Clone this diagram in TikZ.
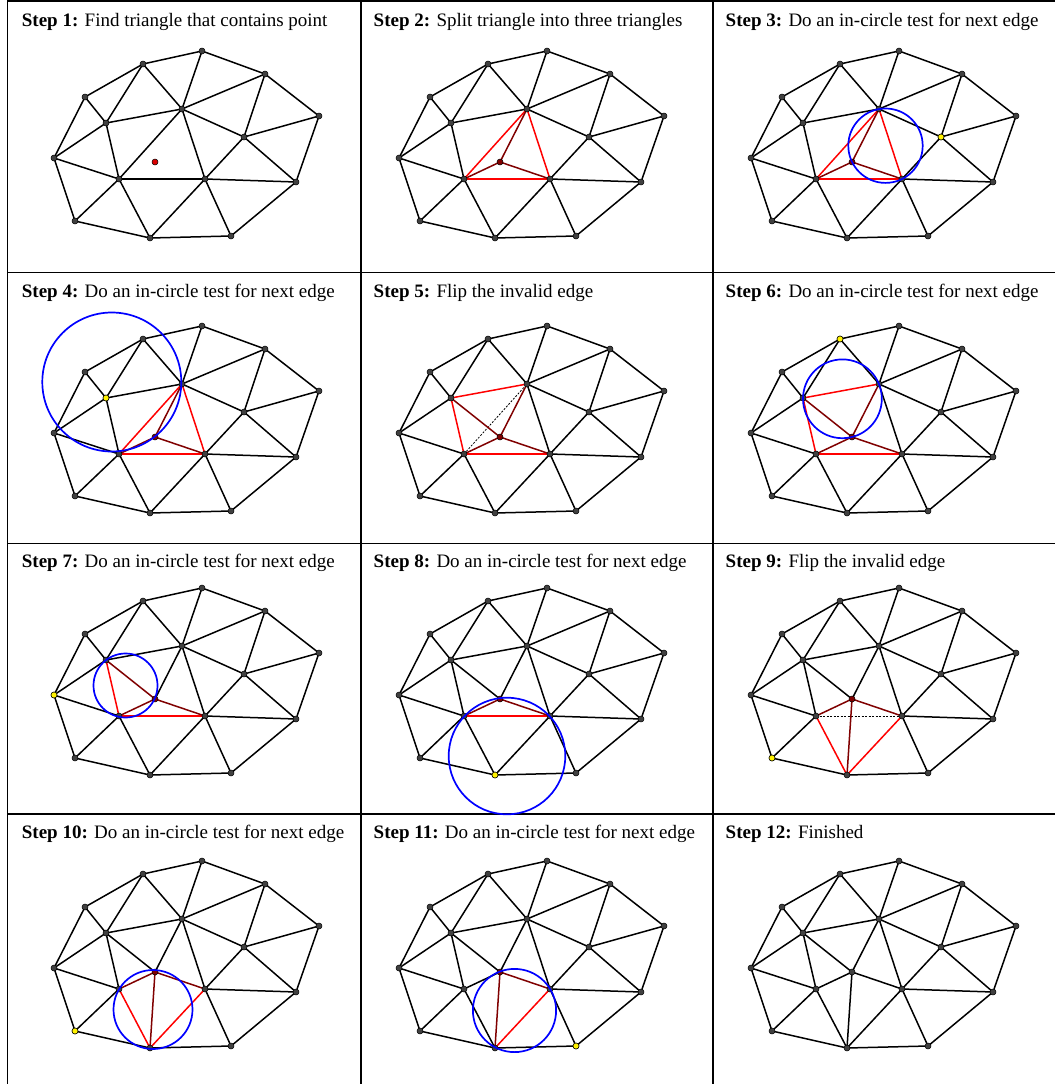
\documentclass[tikz,border=0pt]{standalone}
\usepackage{fontspec}
\setmainfont{Liberation Serif}
\definecolor{dred}{HTML}{800000}
\definecolor{vgray}{HTML}{404040}
\tikzset{
 edge/.style={line width=1.5pt, black, line cap=round},
 redge/.style={line width=1.5pt, red, line cap=round},
 dedge/.style={line width=1.5pt, dred, line cap=round},
 flipd/.style={line width=0.8pt, black, dash pattern=on 2pt off 1.5pt},
 vtx/.style={circle, draw=black, line width=0.5pt, fill=vgray, inner sep=0pt, minimum size=6pt},
 ccirc/.style={draw=blue, line width=1.7pt},
 gridline/.style={line width=1.8pt, black},
 title/.style={anchor=base west, inner sep=0pt, font=\fontsize{19}{22}\selectfont},
}
\newcommand\placepts[3]{%
 \begin{scope}[shift={(#2,#3)}]
 \coordinate (#1A) at (202,51);
 \coordinate (#1B) at (143,64);
 \coordinate (#1C) at (265,74);
 \coordinate (#1D) at (85,97);
 \coordinate (#1E) at (182,109);
 \coordinate (#1F) at (319,116);
 \coordinate (#1G) at (106,123);
 \coordinate (#1H) at (244,137);
 \coordinate (#1I) at (54,158);
 \coordinate (#1P) at (155,162);
 \coordinate (#1J) at (119,179);
 \coordinate (#1K) at (205,179);
 \coordinate (#1L) at (296,182);
 \coordinate (#1M) at (75,221);
 \coordinate (#1N) at (150,238);
 \coordinate (#1O) at (231,236);
 \end{scope}}
\newcommand\fixededges[1]{\foreach \u/\v in {I/D,D/B,B/A,A/C,C/F,F/L,L/O,O/N,N/M,M/I,D/G,B/G,B/E,A/E,C/E,C/H,F/H,E/H,H/K,H/L,I/G,I/J,K/L,J/M,K/O} \draw[edge] (#1\u) -- (#1\v);}
\newcommand\meshedges[3]{\foreach \u/\v in {#3} \draw[#2] (#1\u) -- (#1\v);}
\newcommand\meshdots[2]{\foreach \v in {A,B,C,D,E,F,G,H,I,J,K,L,M,N,O} \node[vtx] (dot#1\v) at (#1\v) {};
 \node[vtx, fill=#2] (dot#1P) at (#1P) {};}
\newcommand\incircle[5]{\begin{scope}[shift={(#1,#2)}]\draw[ccirc] (#3,#4) circle[radius=#5];\end{scope}}
\begin{document}
\begin{tikzpicture}[x=1pt,y=-1pt]
\useasboundingbox (0,0) rectangle (1055,1084);
\fill[white] (0,0) rectangle (1055,1084);
% grid
\draw[gridline] (7.5,0) -- (7.5,1084);
\draw[gridline] (361,0) -- (361,1084);
\draw[gridline] (713,0) -- (713,1084);
\draw[gridline] (7.5,1.2) -- (1055,1.2);
\draw[gridline] (7.5,272.5) -- (1055,272.5);
\draw[gridline] (7.5,543.5) -- (1055,543.5);
\draw[gridline] (7.5,814.3) -- (1055,814.3);
% titles
\node[title] (t1) at (21.7,26.7) {\textbf{Step 1:} Find triangle that contains point};
\node[title] (t2) at (373.5,26.7) {\textbf{Step 2:} Split triangle into three triangles};
\node[title] (t3) at (725.5,26.7) {\textbf{Step 3:} Do an in-circle test for next edge};
\node[title] (t4) at (21.7,297) {\textbf{Step 4:} Do an in-circle test for next edge};
\node[title] (t5) at (373.5,297) {\textbf{Step 5:} Flip the invalid edge};
\node[title] (t6) at (725.5,297) {\textbf{Step 6:} Do an in-circle test for next edge};
\node[title] (t7) at (21.7,567.5) {\textbf{Step 7:} Do an in-circle test for next edge};
\node[title] (t8) at (373.5,567.5) {\textbf{Step 8:} Do an in-circle test for next edge};
\node[title] (t9) at (725.5,567.5) {\textbf{Step 9:} Flip the invalid edge};
\node[title] (t10) at (21.7,838.5) {\textbf{Step 10:} Do an in-circle test for next edge};
\node[title] (t11) at (373.5,838.5) {\textbf{Step 11:} Do an in-circle test for next edge};
\node[title] (t12) at (725.5,838.5) {\textbf{Step 12:} Finished};
% Step 1
\placepts{s1-}{0}{0}
\fixededges{s1-}
\meshedges{s1-}{edge}{E/G,E/J,E/K,G/J,J/K,J/N,K/N}
\meshdots{s1-}{red!85!black}
% Step 2
\placepts{s2-}{345}{0}
\fixededges{s2-}
\meshedges{s2-}{edge}{E/G,G/J,J/N,K/N}
\meshedges{s2-}{redge}{J/E,E/K,J/K}
\meshedges{s2-}{dedge}{P/J,P/E,P/K}
\meshdots{s2-}{dred}
% Step 3
\placepts{s3-}{697}{0}
\fixededges{s3-}
\meshedges{s3-}{edge}{E/G,G/J,J/N,K/N}
\meshedges{s3-}{redge}{J/E,E/K,J/K}
\meshedges{s3-}{dedge}{P/J,P/E,P/K}
\meshdots{s3-}{dred}
\node[vtx, fill=yellow] (y3) at (s3-H) {};
\incircle{697}{0}{188.5}{145.7}{37.2}
% Step 4
\placepts{s4-}{0}{275}
\fixededges{s4-}
\meshedges{s4-}{edge}{E/G,G/J,J/N,K/N}
\meshedges{s4-}{redge}{J/E,E/K,J/K}
\meshedges{s4-}{dedge}{P/J,P/E,P/K}
\meshdots{s4-}{dred}
\node[vtx, fill=yellow] (y4) at (s4-G) {};
\incircle{0}{275}{111.8}{107}{69.5}
% Step 5
\placepts{s5-}{345}{275}
\fixededges{s5-}
\meshedges{s5-}{edge}{E/K,J/N,K/N}
\meshedges{s5-}{flipd}{J/E}
\meshedges{s5-}{redge}{G/E,G/J,J/K}
\meshedges{s5-}{dedge}{P/G,P/E,P/K,P/J}
\meshdots{s5-}{dred}
% Step 6
\placepts{s6-}{697}{275}
\fixededges{s6-}
\meshedges{s6-}{edge}{E/K,J/N,K/N}
\meshedges{s6-}{redge}{G/E,G/J,J/K}
\meshedges{s6-}{dedge}{P/G,P/E,P/K,P/J}
\meshdots{s6-}{dred}
\node[vtx, fill=yellow] (y6) at (s6-B) {};
\incircle{697}{275}{145.4}{123.8}{39.4}
% Step 7
\placepts{s7-}{0}{537}
\fixededges{s7-}
\meshedges{s7-}{edge}{E/G,E/K,J/N,K/N,P/E}
\meshedges{s7-}{redge}{G/J,J/K}
\meshedges{s7-}{dedge}{P/G,P/J,P/K}
\meshdots{s7-}{dred}
\node[vtx, fill=yellow] (y7) at (s7-I) {};
\incircle{0}{537}{125.5}{148.5}{32}
% Step 8
\placepts{s8-}{345}{537}
\fixededges{s8-}
\meshedges{s8-}{edge}{E/G,E/K,G/J,J/N,K/N,P/E,P/G}
\meshedges{s8-}{redge}{J/K}
\meshedges{s8-}{dedge}{P/J,P/K}
\meshdots{s8-}{dred}
\node[vtx, fill=yellow] (y8) at (s8-N) {};
\incircle{345}{537}{162}{219}{58.3}
% Step 9
\placepts{s9-}{697}{537}
\fixededges{s9-}
\meshedges{s9-}{edge}{E/G,E/K,G/J,P/E,P/G}
\meshedges{s9-}{flipd}{J/K}
\meshedges{s9-}{redge}{J/N,K/N}
\meshedges{s9-}{dedge}{P/J,P/K,P/N}
\meshdots{s9-}{dred}
\node[vtx, fill=yellow] (y9) at (s9-M) {};
% Step 10
\placepts{s10-}{0}{810}
\fixededges{s10-}
\meshedges{s10-}{edge}{E/G,E/K,G/J,P/E,P/G}
\meshedges{s10-}{redge}{J/N,K/N}
\meshedges{s10-}{dedge}{P/J,P/K,P/N}
\meshdots{s10-}{dred}
\node[vtx, fill=yellow] (y10) at (s10-M) {};
\incircle{0}{810}{153}{199.5}{39.5}
% Step 11
\placepts{s11-}{345}{810}
\fixededges{s11-}
\meshedges{s11-}{edge}{E/G,E/K,G/J,P/E,P/G,J/N,P/J}
\meshedges{s11-}{redge}{K/N}
\meshedges{s11-}{dedge}{P/N,P/K}
\meshdots{s11-}{dred}
\node[vtx, fill=yellow] (y11) at (s11-O) {};
\incircle{345}{810}{169.5}{200.5}{41.6}
% Step 12
\placepts{s12-}{697}{810}
\fixededges{s12-}
\meshedges{s12-}{edge}{E/G,E/K,G/J,P/E,P/G,J/N,P/J,P/N,P/K,K/N}
\meshdots{s12-}{vgray}
\end{tikzpicture}
\end{document}
